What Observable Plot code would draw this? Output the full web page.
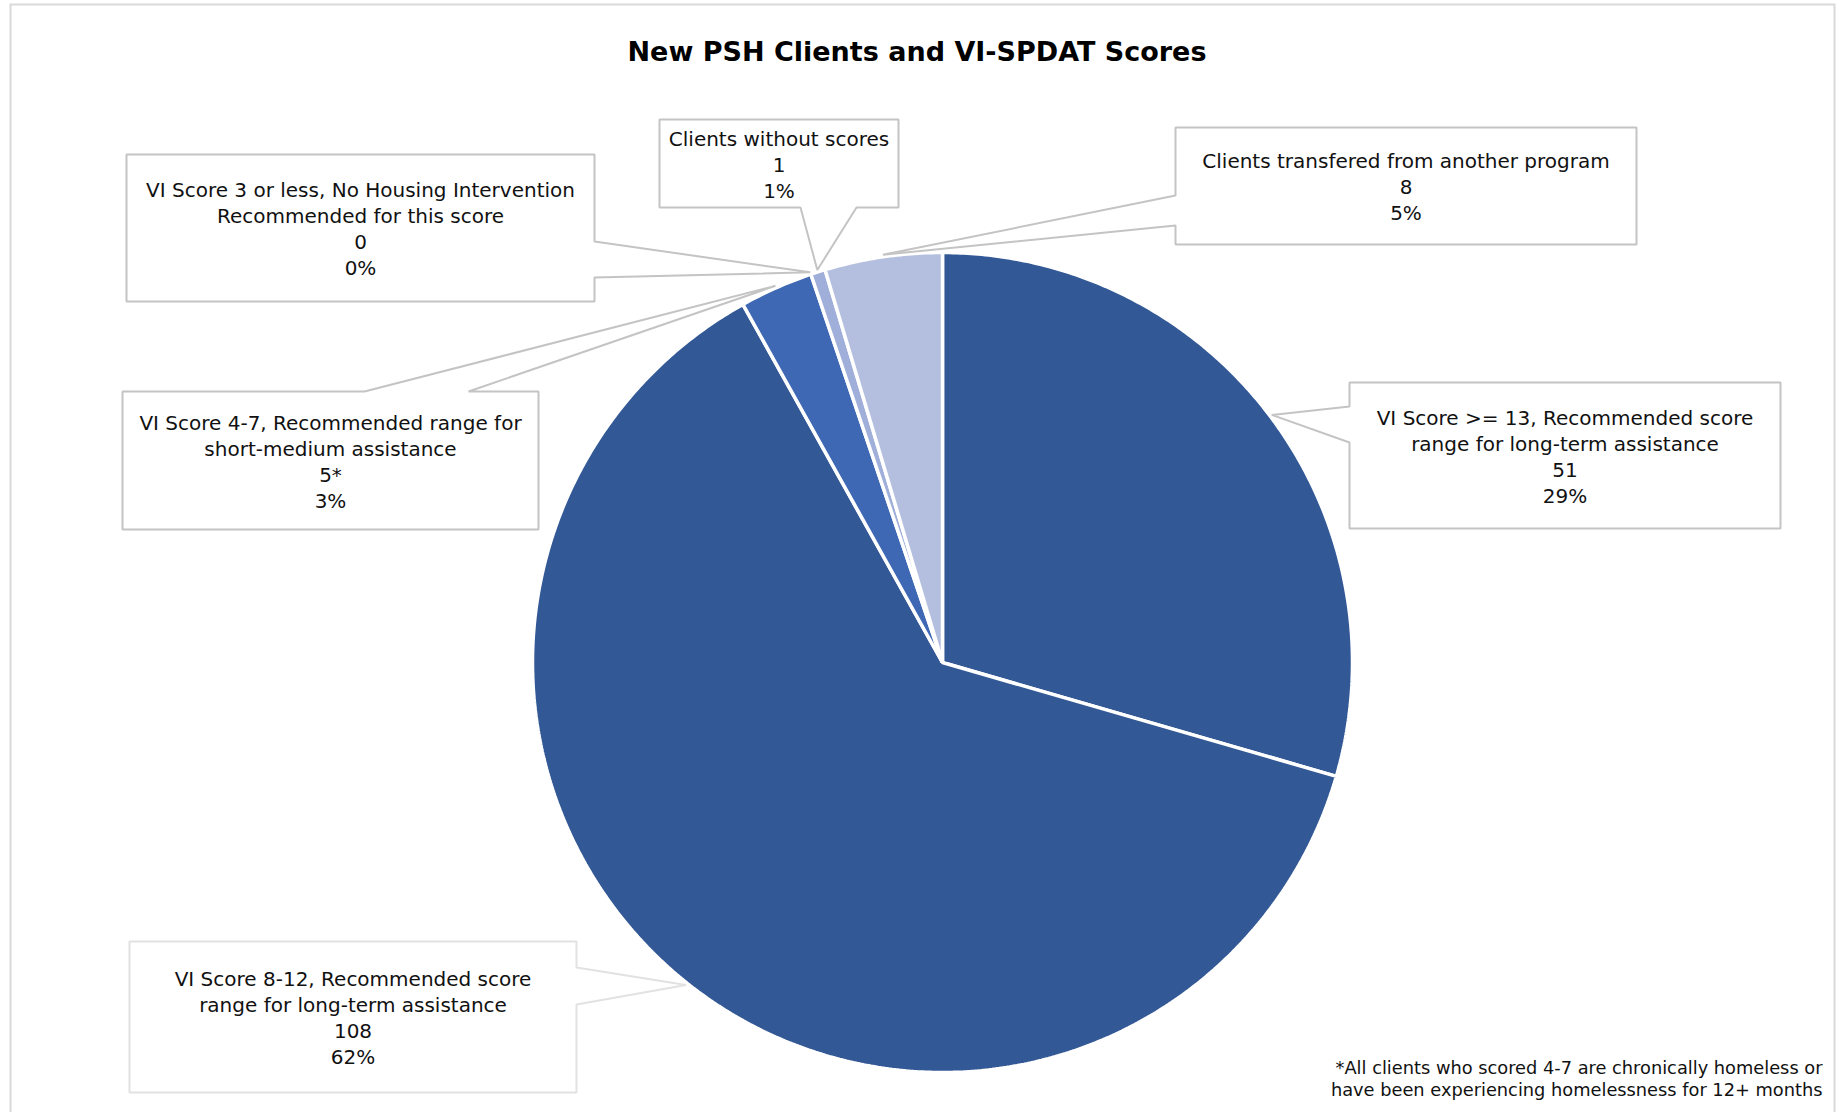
<!DOCTYPE html>
<html>
<head>
<meta charset="utf-8">
<script src="https://cdn.jsdelivr.net/npm/d3@7"></script>
<script src="https://cdn.jsdelivr.net/npm/@observablehq/plot@0.6"></script>
<style>
  html, body { margin: 0; padding: 0; background: #ffffff; }
  #chart svg { display: block; }
</style>
</head>
<body>
<div id="chart"></div>
<script>
// ---------- DATA ----------
const categories = [
  "VI Score >= 13, Recommended score range for long-term assistance",
  "VI Score 8-12, Recommended score range for long-term assistance",
  "VI Score 4-7, Recommended range for short-medium assistance",
  "VI Score 3 or less, No Housing Intervention Recommended for this score",
  "Clients without scores",
  "Clients transfered from another program"
];
const categoryLines = [
  ["VI Score >= 13, Recommended score", "range for long-term assistance"],
  ["VI Score 8-12, Recommended score", "range for long-term assistance"],
  ["VI Score 4-7, Recommended range for", "short-medium assistance"],
  ["VI Score 3 or less, No Housing Intervention", "Recommended for this score"],
  ["Clients without scores"],
  ["Clients transfered from another program"]
];
const counts = [51, 108, 5, 0, 1, 8];
const countLabels = ["51", "108", "5*", "0", "1", "8"];
const titleText = "New PSH Clients and VI-SPDAT Scores";
const footnoteLines = [
  "*All clients who scored 4-7 are chronically homeless or",
  "have been experiencing homelessness for 12+ months"
];

// ---------- STYLE / LAYOUT ----------
const sliceColors = ["#335896", "#335896", "#3e68b3", "#3e68b3", "#a0afd9", "#b4bfdf"];
const W = 1843, H = 1112;
const pie = {cx: 942, cy: 662, r: 410};
const FONT = "'DejaVu Sans', sans-serif";
const callouts = [
  {box: [1349, 1780, 382, 528], side: "left",   base: [406, 442], stroke: "#c4c4c4"},
  {box: [129, 576, 941, 1092],  side: "right",  base: [967, 1004], stroke: "#e2e2e2"},
  {box: [122, 538, 391, 529],   side: "top",    base: [364, 468], stroke: "#c4c4c4"},
  {box: [126, 594, 154, 301],   side: "right",  base: [241, 277], stroke: "#c4c4c4"},
  {box: [659, 898, 119, 207],   side: "bottom", base: [800, 856], stroke: "#c4c4c4"},
  {box: [1175, 1636, 127, 244], side: "left",   base: [195, 225], stroke: "#c4c4c4"}
];

// ---------- DERIVED ----------
const total = d3.sum(counts);
const pctLabels = counts.map(c => Math.round(c / total * 100) + "%");
const angles = [];
{
  let a = 0;
  counts.forEach((c, i) => {
    const span = c / total * 2 * Math.PI;
    angles.push({i, a0: a, a1: a + span, mid: a + span / 2});
    a += span;
  });
}
const px = (a, rr) => pie.cx + rr * Math.sin(a);
const py = (a, rr) => pie.cy - rr * Math.cos(a);

// pie slice polygons (from the counts)
const slicePts = [];
angles.forEach(({i, a0, a1}) => {
  if (a1 - a0 <= 0) return;
  slicePts.push({cat: categories[i], x: pie.cx, y: pie.cy});
  const n = Math.max(2, Math.ceil((a1 - a0) / (Math.PI / 360)));
  for (let k = 0; k <= n; k++) {
    const a = a0 + (a1 - a0) * k / n;
    slicePts.push({cat: categories[i], x: px(a, pie.r), y: py(a, pie.r)});
  }
});

// callout shapes
function calloutPoly(c, tip) {
  const [x1, x2, y1, y2] = c.box;
  const [b1, b2] = c.base;
  let pts;
  if (c.side === "left") pts = [[x1,y1],[x2,y1],[x2,y2],[x1,y2],[x1,b2],tip,[x1,b1]];
  else if (c.side === "right") pts = [[x1,y1],[x2,y1],[x2,b1],tip,[x2,b2],[x2,y2],[x1,y2]];
  else if (c.side === "top") pts = [[x1,y1],[b1,y1],tip,[b2,y1],[x2,y1],[x2,y2],[x1,y2]];
  else pts = [[x1,y1],[x2,y1],[x2,y2],[b2,y2],tip,[b1,y2],[x1,y2]];
  return pts.map(([x, y]) => ({x, y}));
}

const calloutMarks = [];
const labelData = [];
callouts.forEach((c, i) => {
  const mid = angles[i].mid;
  const tip = [px(mid, pie.r + 2), py(mid, pie.r + 2)];
  calloutMarks.push(Plot.line(calloutPoly(c, tip), {
    x: "x", y: "y", curve: "linear-closed",
    fill: "white", stroke: c.stroke, strokeWidth: 2, strokeLinejoin: "miter"
  }));
  labelData.push({
    x: (c.box[0] + c.box[1]) / 2,
    y: (c.box[2] + c.box[3]) / 2,
    text: [...categoryLines[i], countLabels[i], pctLabels[i]].join("\n")
  });
});

const chart = Plot.plot({
  width: W, height: H,
  margin: 0,
  x: {domain: [0, W], range: [0, W], axis: null},
  y: {domain: [0, H], range: [0, H], axis: null},
  color: {domain: categories, range: sliceColors},
  style: {fontFamily: FONT, background: "white"},
  marks: [
    Plot.frame({stroke: "#d9d9d9", strokeWidth: 2, insetLeft: 10, insetTop: 4, insetRight: 9, insetBottom: -10}),
    Plot.line(slicePts, {
      x: "x", y: "y", z: "cat", fill: "cat", curve: "linear-closed",
      stroke: "white", strokeWidth: 3.5, strokeLinejoin: "miter"
    }),
    ...calloutMarks,
    Plot.text(labelData, {
      x: "x", y: "y", text: "text", fontSize: 20, lineHeight: 26 / 20,
      textAnchor: "middle", lineAnchor: "middle", fill: "#111111", fontFamily: FONT
    }),
    Plot.text([titleText], {
      frameAnchor: "top", dx: -5, dy: 52, lineAnchor: "middle",
      fontSize: 27, fontWeight: "bold", fill: "#000000", fontFamily: FONT
    }),
    Plot.text([footnoteLines.join("\n")], {
      frameAnchor: "bottom-right", dx: -21, dy: -35, textAnchor: "end", lineAnchor: "middle",
      fontSize: 17.8, lineHeight: 22 / 17.8, fill: "#111111", fontFamily: FONT
    })
  ]
});
document.getElementById("chart").appendChild(chart);
</script>
</body>
</html>
